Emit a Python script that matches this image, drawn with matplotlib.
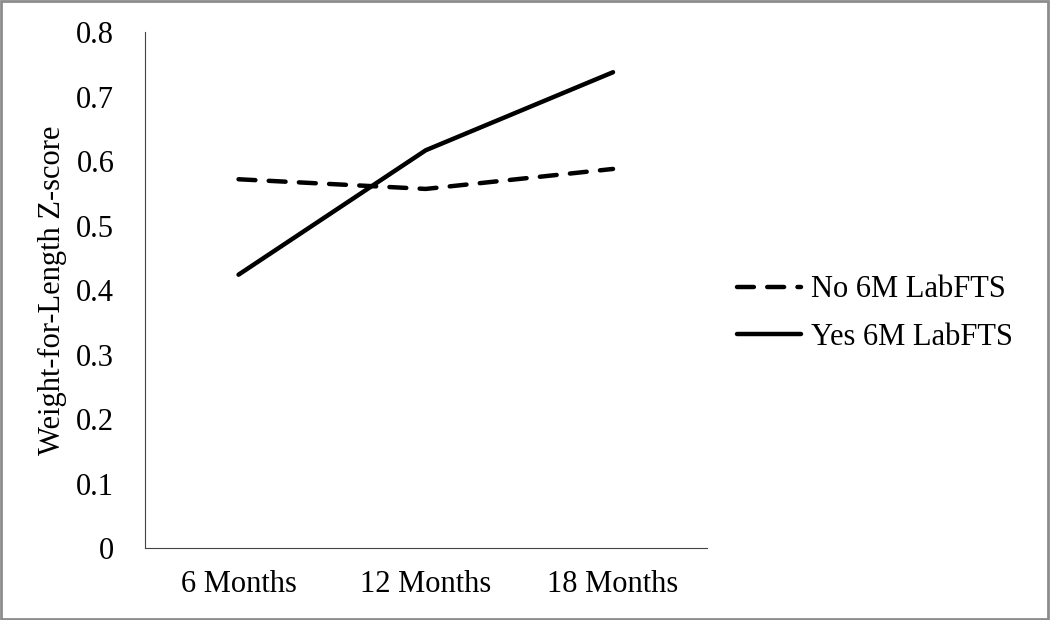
import matplotlib
matplotlib.use('Agg')
import matplotlib.pyplot as plt
from matplotlib.patches import Rectangle

categories = ['6 Months', '12 Months', '18 Months']
no_labfts = [0.572, 0.557, 0.588]
yes_labfts = [0.424, 0.617, 0.738]
yticks = [0, 0.1, 0.2, 0.3, 0.4, 0.5, 0.6, 0.7, 0.8]

plt.rcParams['font.family'] = ['Liberation Serif', 'DejaVu Serif']
fs = 22

fig = plt.figure(figsize=(10.5, 6.2), dpi=100)
ax = fig.add_axes([0.138, 0.116, 0.535, 0.832])

x = list(range(len(categories)))
ax.plot(x, no_labfts, color='black', lw=3.2, ls=(0, (3.8, 3.0)), label='No 6M LabFTS',
        solid_capstyle='round', dash_capstyle='round')
ax.plot(x, yes_labfts, color='black', lw=3.2, label='Yes 6M LabFTS', solid_capstyle='round')

ax.set_xlim(-0.5, 2.5)
ax.set_ylim(0, 0.8)
ax.set_xticks(x)
ax.set_xticklabels(categories, fontsize=fs)
ax.set_yticks(yticks)
ax.set_yticklabels([f'{v:g}' for v in yticks], fontsize=fs)
ax.tick_params(axis='x', length=0, pad=16)
ax.tick_params(axis='y', length=0, pad=22)
ax.set_ylabel('Weight-for-Length Z-score', fontsize=fs, labelpad=7)
ax.spines['top'].set_visible(False)
ax.spines['right'].set_visible(False)
ax.spines['left'].set_color('#444444')
ax.spines['bottom'].set_color('#444444')

fig.legend(loc='center left', bbox_to_anchor=(0.676, 0.494), frameon=False, fontsize=fs,
           handlelength=2.1, labelspacing=0.62, handletextpad=0.3)

fig.patches.append(Rectangle((0.001, 0.002), 0.997, 0.996, transform=fig.transFigure,
                             fill=False, edgecolor='#8c8c8c', lw=2))

fig.savefig('out.png', dpi=100)
